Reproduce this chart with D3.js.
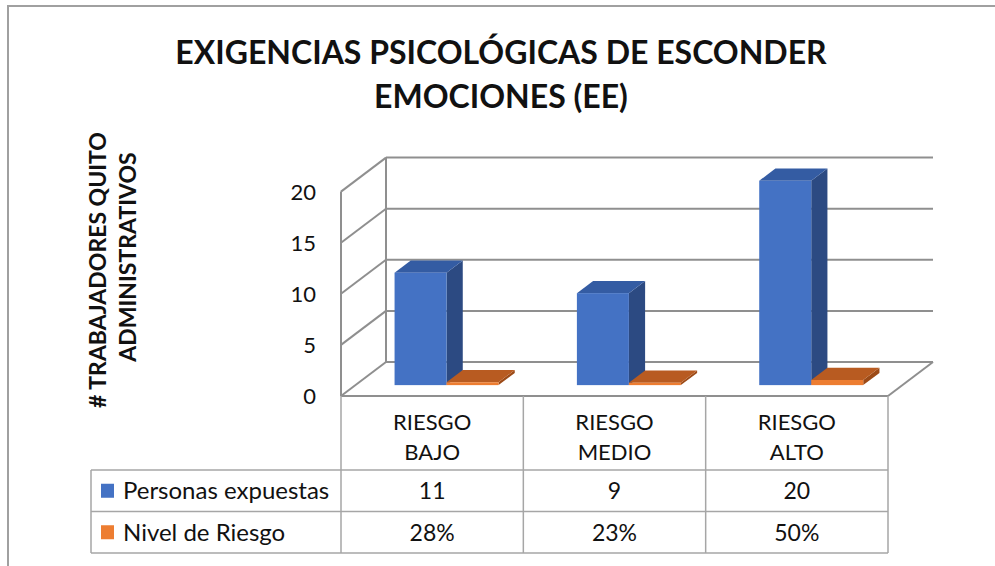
<!DOCTYPE html>
<html>
<head>
<meta charset="utf-8">
<script src="https://cdn.jsdelivr.net/npm/d3@7"></script>
<style>
	body { margin: 0; background: #fff; }
	svg text { font-family: Lato, "Open Sans", sans-serif; fill: #111; }
</style>
</head>
<body>
<div id="viewport"></div>
<script>

// data
var categories = ["RIESGO BAJO", "RIESGO MEDIO", "RIESGO ALTO"];
var seriesNames = ["Personas expuestas", "Nivel de Riesgo"];
var personas = [11, 9, 20];
var nivel = [0.28, 0.23, 0.50];
var yTicks = [0, 5, 10, 15, 20];
var titleLines = ["EXIGENCIAS PSICOLÓGICAS DE ESCONDER", "EMOCIONES (EE)"];
var axisTitleLines = ["# TRABAJADORES QUITO", "ADMINISTRATIVOS"];

var width = 995, height = 566;

/**
 * ----------------------------------------------------------------------------------------------------------
 * Layout
 */
var plotLeft = 341, plotRight = 888, floorY = 396;
var depthX = 45, depthY = -34;      // offset of the back wall
var barFront = 0.32, barDepth = 0.36; // fractions of depth
var tableLeft = 91, rowTops = [470, 511.5, 553];

var svg = d3.select("#viewport").append("svg")
	.attr("width", width)
	.attr("height", height);

var x = d3.scaleBand().domain(categories).range([plotLeft, plotRight]);
var xs = d3.scaleBand().domain(seriesNames).range([0, x.bandwidth()]).paddingOuter(0.753);
var y = d3.scaleLinear().domain([0, 20]).range([floorY, floorY - 204.4]);

var gridColor = "#8f8f8f", tableColor = "#a6a6a6";

// chart frame
svg.append("path")
	.attr("d", "M8," + height + "V6H" + width)
	.attr("fill", "none")
	.attr("stroke", "#a0a0a0")
	.attr("stroke-width", 2);

// title
svg.append("g").selectAll("text").data(titleLines).enter().append("text")
	.attr("x", 501)
	.attr("y", function(d, i) { return 64 + i * 44; })
	.attr("text-anchor", "middle")
	.attr("font-size", 32)
	.attr("font-weight", "bold")
	.text(function(d) { return d; });

// axis title (rotated)
var axisCenters = [[98, 270], [128, 257]];
svg.append("g").selectAll("text").data(axisTitleLines).enter().append("text")
	.attr("transform", function(d, i) {
		return "translate(" + axisCenters[i][0] + "," + axisCenters[i][1] + ") rotate(-90)";
	})
	.attr("dy", "0.36em")
	.attr("text-anchor", "middle")
	.attr("font-size", 23)
	.attr("font-weight", "bold")
	.text(function(d) { return d; });

/**
 * ----------------------------------------------------------------------------------------------------------
 * Walls and gridlines
 */
var walls = svg.append("g")
	.attr("fill", "none")
	.attr("stroke", gridColor)
	.attr("stroke-width", 2);

// back wall gridlines
walls.selectAll(".grid").data(yTicks).enter().append("line")
	.attr("x1", plotLeft + depthX)
	.attr("x2", plotRight + depthX)
	.attr("y1", function(d) { return y(d) + depthY; })
	.attr("y2", function(d) { return y(d) + depthY; });

// left wall diagonals
walls.selectAll(".side").data(yTicks).enter().append("line")
	.attr("x1", plotLeft)
	.attr("x2", plotLeft + depthX)
	.attr("y1", function(d) { return y(d); })
	.attr("y2", function(d) { return y(d) + depthY; });

// left wall verticals
walls.append("line")
	.attr("x1", plotLeft).attr("x2", plotLeft)
	.attr("y1", y(0)).attr("y2", y(20));
walls.append("line")
	.attr("x1", plotLeft + depthX).attr("x2", plotLeft + depthX)
	.attr("y1", y(0) + depthY).attr("y2", y(20) + depthY);

// floor right edge
walls.append("line")
	.attr("x1", plotRight).attr("x2", plotRight + depthX)
	.attr("y1", y(0)).attr("y2", y(0) + depthY);

// y tick labels
svg.append("g").selectAll("text").data(yTicks).enter().append("text")
	.attr("x", 316)
	.attr("y", function(d) { return y(d); })
	.attr("dy", "0.36em")
	.attr("text-anchor", "end")
	.attr("font-size", 22)
	.text(function(d) { return d; });

/**
 * ----------------------------------------------------------------------------------------------------------
 * 3D bars
 */
var colors = {
	"Personas expuestas": { front: "#4472c4", side: "#2c4a82", top: "#345ca3" },
	"Nivel de Riesgo": { front: "#ed7d31", side: "#9c4a17", top: "#b85b21" }
};

var bars = [];
categories.forEach(function(c, i) {
	bars.push({ cat: c, series: seriesNames[0], value: personas[i] });
	bars.push({ cat: c, series: seriesNames[1], value: nivel[i] });
});

var ox = depthX * barFront, oy = depthY * barFront;
var bx = depthX * barDepth, by = depthY * barDepth;

function pts(list) {
	return list.map(function(p) { return p.join(","); }).join(" ");
}

var barG = svg.append("g").selectAll("g").data(bars).enter().append("g");

barG.each(function(d) {
	var g = d3.select(this);
	var x0 = x(d.cat) + xs(d.series) + ox, x1 = x0 + xs.bandwidth();
	var yb = y(0) + oy, yt = y(d.value) + oy;
	var c = colors[d.series];

	g.append("polygon")
		.attr("points", pts([[x1, yb], [x1 + bx, yb + by], [x1 + bx, yt + by], [x1, yt]]))
		.attr("fill", c.side);
	g.append("polygon")
		.attr("points", pts([[x0, yt], [x1, yt], [x1 + bx, yt + by], [x0 + bx, yt + by]]))
		.attr("fill", c.top);
	g.append("rect")
		.attr("x", x0).attr("y", yt)
		.attr("width", x1 - x0).attr("height", Math.max(yb - yt, 1))
		.attr("fill", c.front);
});

/**
 * ----------------------------------------------------------------------------------------------------------
 * Data table
 */
var table = svg.append("g")
	.attr("stroke", tableColor)
	.attr("stroke-width", 1.5);

// top edge of the header (floor front edge)
table.append("line")
	.attr("x1", plotLeft).attr("x2", plotRight)
	.attr("y1", floorY).attr("y2", floorY)
	.attr("stroke", gridColor).attr("stroke-width", 2);

table.selectAll(".row").data(rowTops).enter().append("line")
	.attr("x1", tableLeft).attr("x2", plotRight)
	.attr("y1", function(d) { return d; })
	.attr("y2", function(d) { return d; });

var colEdges = categories.map(function(c) { return x(c); }).concat([plotRight]);
table.selectAll(".col").data(colEdges).enter().append("line")
	.attr("x1", function(d) { return d; })
	.attr("x2", function(d) { return d; })
	.attr("y1", floorY)
	.attr("y2", rowTops[2]);

table.append("line")
	.attr("x1", tableLeft).attr("x2", tableLeft)
	.attr("y1", rowTops[0]).attr("y2", rowTops[2]);

// header: category names on two lines
svg.append("g").selectAll("text").data(categories).enter().append("text")
	.attr("x", function(d) { return x(d) + x.bandwidth() / 2; })
	.attr("y", 422)
	.attr("text-anchor", "middle")
	.attr("font-size", 22)
	.each(function(d) {
		var words = d.split(" ");
		var t = d3.select(this);
		words.forEach(function(w, i) {
			t.append("tspan")
				.attr("x", x(d) + x.bandwidth() / 2)
				.attr("y", 422 + i * 30)
				.attr("dy", "0.36em")
				.text(w);
		});
	});

// rows: legend key + values
var rows = [
	{ name: seriesNames[0], values: personas.map(String) },
	{ name: seriesNames[1], values: nivel.map(d3.format(".0%")) }
];

var rowG = svg.append("g").selectAll("g").data(rows).enter().append("g")
	.attr("transform", function(d, i) {
		return "translate(0," + (rowTops[i] + rowTops[i + 1]) / 2 + ")";
	});

rowG.append("rect")
	.attr("x", 101).attr("y", -7)
	.attr("width", 13).attr("height", 14)
	.attr("fill", function(d) { return colors[d.name].front; });

rowG.append("text")
	.attr("x", 123)
	.attr("dy", "0.36em")
	.attr("font-size", 24)
	.text(function(d) { return d.name; });

rowG.selectAll(".val").data(function(d) { return d.values; }).enter().append("text")
	.attr("x", function(d, i) { return x(categories[i]) + x.bandwidth() / 2; })
	.attr("dy", "0.36em")
	.attr("text-anchor", "middle")
	.attr("font-size", 23)
	.text(function(d) { return d; });

</script>
</body>
</html>
